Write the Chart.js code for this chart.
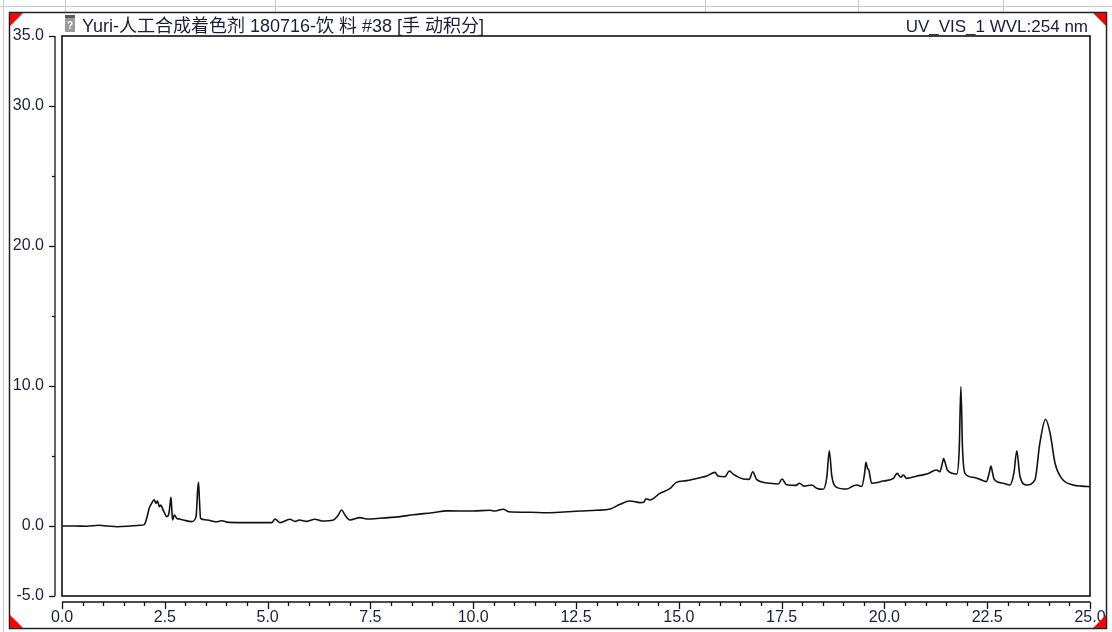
<!DOCTYPE html>
<html>
<head>
<meta charset="utf-8">
<script src="https://cdn.jsdelivr.net/npm/chart.js@4"></script>
<style>
  html, body { margin: 0; padding: 0; background: #fff; }
  canvas { display: block; }
</style>
</head>
<body>
<canvas id="chrom" width="1112" height="632"></canvas>
<script>
// retention time (min) and signal (mAU)
const times = [
  0.0, 0.3, 0.6, 0.9, 1.1, 1.35, 1.6, 1.9, 2.0, 2.06, 2.12, 2.18, 2.24, 2.27, 2.29, 2.32, 2.37, 2.40, 2.46,
  2.55, 2.60, 2.63, 2.65, 2.67, 2.69, 2.73, 2.79, 2.85, 2.95, 3.15, 3.26, 3.30, 3.32, 3.34, 3.37, 3.48,
  3.62, 3.76, 3.88, 4.05, 4.57, 5.1, 5.18, 5.3, 5.54, 5.67, 5.77, 5.95, 6.15, 6.32, 6.6, 6.72, 6.8, 6.88,
  7.0, 7.25, 7.41, 7.73, 8.22, 8.54, 9.0, 9.36, 10.0, 10.41, 10.53, 10.73, 10.86, 11.38, 11.79, 12.2,
  12.6, 13.0, 13.33, 13.57, 13.81, 14.06, 14.15, 14.2, 14.3, 14.54, 14.79, 14.93, 15.19, 15.52, 15.68,
  15.88, 15.95, 16.12, 16.23, 16.33, 16.57, 16.71, 16.8, 16.89, 17.22, 17.42, 17.51, 17.62, 17.85, 17.93,
  18.05, 18.23, 18.35, 18.51, 18.6, 18.66, 18.72, 18.84, 19.08, 19.24, 19.33, 19.45, 19.52, 19.55, 19.59,
  19.62, 19.69, 19.97, 20.22, 20.31, 20.4, 20.46, 20.54, 20.79, 21.03, 21.27, 21.35, 21.41, 21.44, 21.48,
  21.53, 21.76, 21.82, 21.86, 21.9, 21.96, 22.16, 22.32, 22.48, 22.55, 22.59, 22.63, 22.67, 22.89, 23.05,
  23.15, 23.22, 23.28, 23.3, 23.46, 23.66, 23.78, 23.92, 24.03, 24.15, 24.31, 24.59, 24.8, 25.0
];
const signal = [
  0.0, 0.0, -0.02, 0.05, 0.0, -0.05, -0.02, 0.05, 0.1, 0.55, 1.26, 1.62, 1.88, 1.7, 1.62, 1.8, 1.38, 1.5, 1.14,
  0.67, 0.9, 1.6, 2.05, 1.2, 0.43, 0.79, 0.55, 0.5, 0.43, 0.31, 0.67, 2.6, 3.12, 2.0, 0.55, 0.45,
  0.38, 0.3, 0.38, 0.26, 0.24, 0.24, 0.5, 0.24, 0.48, 0.33, 0.43, 0.33, 0.48, 0.36, 0.43, 0.79, 1.14, 0.79,
  0.43, 0.6, 0.5, 0.55, 0.67, 0.8, 0.95, 1.08, 1.07, 1.12, 1.07, 1.2, 1.02, 0.98, 0.95, 1.0,
  1.07, 1.12, 1.22, 1.55, 1.79, 1.67, 1.7, 1.95, 1.86, 2.33, 2.69, 3.1, 3.24, 3.45, 3.57,
  3.83, 3.57, 3.52, 3.93, 3.69, 3.36, 3.33, 3.88, 3.33, 3.05, 3.0, 3.36, 2.95, 2.9, 3.05,
  2.85, 2.93, 2.7, 2.62, 3.5, 5.38, 3.6, 2.76, 2.64, 2.86, 2.93, 2.83, 3.8, 4.55, 4.1,
  4.0, 3.05, 3.21, 3.4, 3.76, 3.48, 3.64, 3.4, 3.57, 3.71, 4.0, 3.88, 4.5, 4.81, 4.5,
  4.0, 3.71, 5.5, 9.95, 5.5, 3.76, 3.48, 3.33, 3.17, 3.8, 4.29, 3.8, 3.33, 3.05, 2.93,
  3.8, 5.38, 3.9, 3.52, 2.93, 3.29, 5.9, 7.62, 6.62, 4.48, 3.4, 2.93, 2.85, 2.81
];

// y values that carry a label; the others only get a short tick
const yLabelled = [35, 30, 20, 10, 0, -5];

const titleLeft = "Yuri-人工合成着色剂 180716-饮 料 #38 [手 动积分]";
const titleRight = "UV_VIS_1 WVL:254 nm";

const fontFamily = '"Liberation Sans", Arial, "Noto Sans CJK SC", sans-serif';
const textColor = "#1c1c3a";

function line(ctx, x1, y1, x2, y2) {
  ctx.beginPath();
  ctx.moveTo(x1, y1);
  ctx.lineTo(x2, y2);
  ctx.stroke();
}

function tri(ctx, pts) {
  ctx.beginPath();
  ctx.moveTo(pts[0], pts[1]);
  ctx.lineTo(pts[2], pts[3]);
  ctx.lineTo(pts[4], pts[5]);
  ctx.closePath();
  ctx.fill();
}

// frame, offset axes, ticks and header texts
const decorations = {
  id: "decorations",
  beforeDraw(chart) {
    const ctx = chart.ctx;
    ctx.save();
    ctx.fillStyle = "#fff";
    ctx.fillRect(0, 0, chart.width, chart.height);
    ctx.restore();
  },
  afterDraw(chart) {
    const { ctx, chartArea: a, scales } = chart;
    const xs = scales.x;
    const ys = scales.y;
    ctx.save();

    // outer window lines
    ctx.strokeStyle = "#c8c8c8";
    ctx.lineWidth = 1;
    line(ctx, 0, 6.5, chart.width, 6.5);
    line(ctx, 3.5, 0, 3.5, chart.height);
    [65, 275, 705, 858, 1003].forEach((px) => line(ctx, px + 0.5, 0, px + 0.5, 12));
    ctx.strokeStyle = "#222";
    ctx.lineWidth = 1.5;
    ctx.strokeRect(9.5, 12.5, 1097, 616);

    // red corner marks
    ctx.fillStyle = "#ff0000";
    tri(ctx, [10, 13, 23, 13, 10, 26]);
    tri(ctx, [1106, 13, 1093, 13, 1106, 26]);
    tri(ctx, [10, 628, 10, 615, 23, 628]);
    tri(ctx, [1106, 628, 1106, 615, 1093, 628]);

    // plot box
    ctx.strokeStyle = "#111";
    ctx.lineWidth = 1.6;
    ctx.strokeRect(a.left, a.top, a.right - a.left, a.bottom - a.top);

    // y axis, set off to the left of the box
    ctx.lineWidth = 1.3;
    const ax = a.left - 7;
    line(ctx, ax, a.top, ax, a.bottom);
    for (let v = -5; v <= 35; v += 5) {
      const py = Math.round(ys.getPixelForValue(v)) + 0.5;
      const len = yLabelled.includes(v) ? 6 : 3;
      line(ctx, ax - len, py, ax, py);
    }

    // x axis, set off below the box
    const ay = a.bottom + 6;
    line(ctx, a.left, ay, a.right, ay);
    for (let i = 0; i <= 50; i++) {
      const px = Math.round(xs.getPixelForValue(i * 0.5)) + 0.5;
      const len = i % 5 === 0 ? 7 : 4;
      line(ctx, px, ay, px, ay + len);
    }

    // file icon
    ctx.fillStyle = "#9a9a9a";
    ctx.fillRect(65, 15, 10, 17);
    ctx.fillStyle = "#5a5a5a";
    ctx.fillRect(65, 15, 10, 3);
    ctx.fillStyle = "#fff";
    ctx.font = "bold 10px " + fontFamily;
    ctx.textAlign = "center";
    ctx.textBaseline = "middle";
    ctx.fillText("?", 70, 26);

    // header texts
    ctx.fillStyle = textColor;
    ctx.textBaseline = "alphabetic";
    ctx.font = "18px " + fontFamily;
    ctx.textAlign = "left";
    ctx.fillText(titleLeft, 82, 32);
    ctx.font = "17px " + fontFamily;
    ctx.textAlign = "right";
    ctx.fillText(titleRight, 1088, 32);

    ctx.restore();
  },
};

const ctx = document.getElementById("chrom");

new Chart(ctx, {
  type: "line",
  data: {
    datasets: [{
      data: times.map((t, i) => ({ x: t, y: signal[i] })),
      borderColor: "#111",
      borderWidth: 1.6,
      pointRadius: 0,
      fill: false,
      cubicInterpolationMode: "monotone",
    }],
  },
  options: {
    responsive: false,
    animation: false,
    events: [],
    layout: { padding: { left: 0, right: 22, top: 36, bottom: 0 } },
    plugins: {
      legend: { display: false },
      title: { display: false },
      tooltip: { enabled: false },
    },
    scales: {
      x: {
        type: "linear",
        min: 0,
        max: 25,
        grid: { display: false, drawTicks: false },
        border: { display: false },
        afterFit: (scale) => {
          scale.height = 36;
          scale.paddingLeft = 0;
          scale.paddingRight = 0;
        },
        ticks: {
          stepSize: 2.5,
          autoSkip: false,
          maxRotation: 0,
          padding: 12,
          color: textColor,
          font: { family: fontFamily, size: 16 },
          callback: (v) => Number(v).toFixed(1),
        },
      },
      y: {
        type: "linear",
        min: -5,
        max: 35,
        grid: { display: false, drawTicks: false },
        border: { display: false },
        afterFit: (scale) => {
          scale.width = 62;
          scale.paddingTop = 0;
          scale.paddingBottom = 0;
        },
        ticks: {
          stepSize: 5,
          autoSkip: false,
          padding: 18,
          color: textColor,
          font: { family: fontFamily, size: 16 },
          callback: (v) => (yLabelled.includes(v) ? Number(v).toFixed(1) : ""),
        },
      },
    },
  },
  plugins: [decorations],
});
</script>
</body>
</html>
